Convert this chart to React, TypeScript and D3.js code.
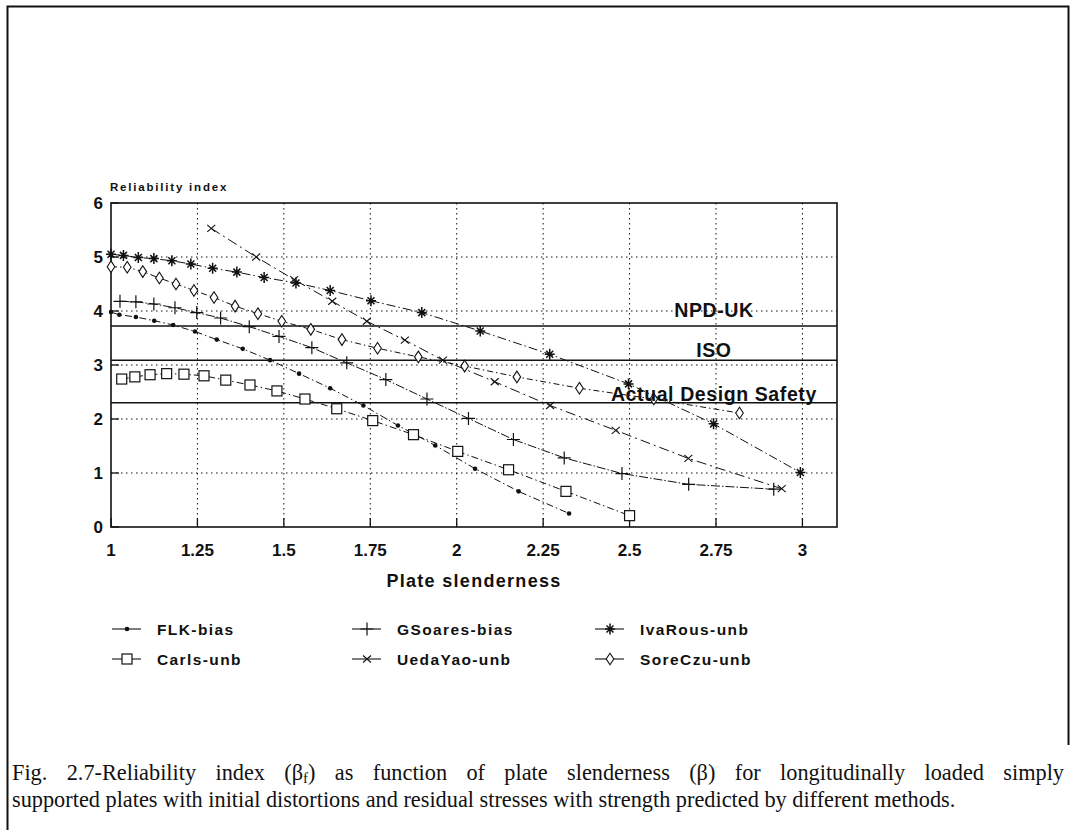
import React, {useLayoutEffect, useRef, useState} from 'react'
import * as d3 from 'd3'

// values
const xTicks = [1, 1.25, 1.5, 1.75, 2, 2.25, 2.5, 2.75, 3]
const xTickLabels = ['1', '1.25', '1.5', '1.75', '2', '2.25', '2.5', '2.75', '3']
const yTicks = [0, 1, 2, 3, 4, 5, 6]

const flkX = [1.0, 1.024, 1.072, 1.125, 1.18, 1.243, 1.306, 1.381, 1.46, 1.544, 1.634, 1.73, 1.83, 1.938, 2.053, 2.179, 2.325]
const flkY = [3.98, 3.93, 3.89, 3.82, 3.74, 3.62, 3.47, 3.30, 3.09, 2.84, 2.57, 2.25, 1.88, 1.51, 1.08, 0.66, 0.25]

const carlsX = [1.031, 1.069, 1.113, 1.161, 1.211, 1.269, 1.332, 1.402, 1.48, 1.561, 1.653, 1.757, 1.875, 2.003, 2.15, 2.316, 2.5]
const carlsY = [2.74, 2.78, 2.82, 2.84, 2.83, 2.80, 2.72, 2.63, 2.52, 2.37, 2.19, 1.97, 1.71, 1.40, 1.06, 0.66, 0.21]

const gsoaresX = [1.026, 1.072, 1.124, 1.185, 1.248, 1.317, 1.4, 1.486, 1.581, 1.682, 1.795, 1.914, 2.034, 2.164, 2.311, 2.478, 2.671, 2.917]
const gsoaresY = [4.18, 4.17, 4.13, 4.06, 3.97, 3.87, 3.71, 3.53, 3.32, 3.04, 2.73, 2.37, 2.01, 1.62, 1.28, 0.99, 0.79, 0.70]

const ivaX = [1.0, 1.036, 1.079, 1.124, 1.176, 1.231, 1.294, 1.364, 1.443, 1.535, 1.634, 1.752, 1.899, 2.068, 2.269, 2.497, 2.743, 2.994]
const ivaY = [5.05, 5.03, 4.99, 4.97, 4.93, 4.87, 4.79, 4.72, 4.62, 4.52, 4.38, 4.19, 3.97, 3.63, 3.20, 2.65, 1.91, 1.01]

const uedaX = [1.29, 1.42, 1.53, 1.64, 1.74, 1.85, 1.96, 2.11, 2.27, 2.46, 2.67, 2.94]
const uedaY = [5.53, 5.0, 4.58, 4.18, 3.81, 3.46, 3.09, 2.69, 2.25, 1.79, 1.27, 0.71]

const soreX = [1.0, 1.047, 1.092, 1.14, 1.188, 1.24, 1.298, 1.359, 1.425, 1.494, 1.578, 1.668, 1.771, 1.889, 2.023, 2.174, 2.355, 2.57, 2.818]
const soreY = [4.82, 4.81, 4.73, 4.61, 4.50, 4.38, 4.25, 4.09, 3.95, 3.81, 3.66, 3.47, 3.31, 3.15, 2.98, 2.78, 2.57, 2.37, 2.11]

const targetValues = [3.72, 3.09, 2.3]
const targetLabels = ['NPD-UK', 'ISO', 'Actual Design Safety']
const targetLabelX = 2.744

const series = [
  {name: 'FLK-bias', xs: flkX, ys: flkY, marker: 'dot', dash: '7 3 1.5 3'},
  {name: 'Carls-unb', xs: carlsX, ys: carlsY, marker: 'square', dash: '7 3 1.5 3'},
  {name: 'GSoares-bias', xs: gsoaresX, ys: gsoaresY, marker: 'plus', dash: '9 2 1.5 2'},
  {name: 'UedaYao-unb', xs: uedaX, ys: uedaY, marker: 'cross', dash: '10 4 2 4'},
  {name: 'IvaRous-unb', xs: ivaX, ys: ivaY, marker: 'star', dash: '9 3 1.5 3'},
  {name: 'SoreCzu-unb', xs: soreX, ys: soreY, marker: 'diamond', dash: '6 3 1.5 3'},
]

// legend order: 3 columns x 2 rows
const legendOrder = ['FLK-bias', 'GSoares-bias', 'IvaRous-unb', 'Carls-unb', 'UedaYao-unb', 'SoreCzu-unb']

const INK = '#111'
const sans = '"Liberation Sans", Arial, Helvetica, sans-serif'
const serif = '"Liberation Serif", "Times New Roman", serif'

const Marker = ({type, x, y}: {type: string, x: number, y: number}) => {
  const t = `translate(${x},${y})`
  if (type === 'dot') return <circle cx={x} cy={y} r={2.3} fill={INK} />
  if (type === 'square') return <rect x={x - 5} y={y - 5} width={10} height={10} fill="white" stroke={INK} strokeWidth={1.2} />
  if (type === 'plus') return <path transform={t} d="M-6.5,0H6.5M0,-6.5V6.5" stroke={INK} strokeWidth={1.2} />
  if (type === 'cross') return <path transform={t} d="M-4,-3.5L4,3.5M-4,3.5L4,-3.5" stroke={INK} strokeWidth={1.1} />
  if (type === 'star') return <path transform={t} d="M-5,0H5M0,-5.5V5.5M-3.5,-3.5L3.5,3.5M-3.5,3.5L3.5,-3.5" stroke={INK} strokeWidth={1.5} />
  return <path transform={t} d="M0,-5.8L3.8,0L0,5.8L-3.8,0Z" fill="white" stroke={INK} strokeWidth={1.1} />
}

export default function App() {
  const left = 111, right = 837, top = 203, bottom = 527

  const x = d3.scaleLinear().domain([1, 3.1]).range([left, right])
  const y = d3.scaleLinear().domain([0, 6]).range([bottom, top])

  const line = d3.line<[number, number]>()
    .x(d => x(d[0]))
    .y(d => y(d[1]))

  const legendCols = [112, 352, 595]
  const legendRows = [629, 659]

  // justify the first caption line by widening the word gaps
  const captionRef = useRef<SVGTextElement>(null)
  const [wordGap, setWordGap] = useState(0)
  useLayoutEffect(() => {
    if (!captionRef.current) return
    const len = captionRef.current.getComputedTextLength()
    setWordGap(Math.max(0, (1052 - len) / 13))
  }, [])

  return (
    <div style={{position: 'absolute', left: 0, top: 0}}>
      <svg width={1077} height={830} style={{display: 'block', background: 'white'}}>
        {/* outer scanned frame */}
        <path d="M7.5,830V6.5H1068.5V745" fill="none" stroke={INK} strokeWidth={2} />

        {/* grid */}
        <g stroke={INK} strokeWidth={1} strokeDasharray="1.5 3.5">
          {xTicks.slice(1).map(t => (
            <line key={'gx' + t} x1={x(t)} x2={x(t)} y1={top} y2={bottom} />
          ))}
          {yTicks.slice(1, -1).map(t => (
            <line key={'gy' + t} x1={left} x2={right} y1={y(t)} y2={y(t)} />
          ))}
        </g>

        {/* ticks */}
        <g stroke={INK} strokeWidth={1.3}>
          {xTicks.map(t => (
            <line key={'tx' + t} x1={x(t)} x2={x(t)} y1={bottom} y2={bottom - 9} />
          ))}
          {yTicks.map(t => (
            <line key={'ty' + t} x1={left} x2={left + 8} y1={y(t)} y2={y(t)} />
          ))}
        </g>

        {/* target reliability lines */}
        {targetValues.map((v, i) => (
          <line key={'target' + i} x1={left} x2={right} y1={y(v)} y2={y(v)} stroke={INK} strokeWidth={1.5} />
        ))}

        {/* plot frame */}
        <rect x={left} y={top} width={right - left} height={bottom - top} fill="none" stroke={INK} strokeWidth={1.6} />

        {/* series */}
        {series.map(s => {
          const pts = s.xs.map((v, i) => [v, s.ys[i]] as [number, number])
          return (
            <g key={s.name}>
              <path d={line(pts) || ''} fill="none" stroke={INK} strokeWidth={1} strokeDasharray={s.dash} />
              {pts.map((p, i) => (
                <Marker key={i} type={s.marker} x={x(p[0])} y={y(p[1])} />
              ))}
            </g>
          )
        })}

        {/* target labels */}
        {targetLabels.map((lab, i) => (
          <text key={lab} x={x(targetLabelX)} y={y(targetValues[i]) - [9, 3.5, 1.5][i]}
            textAnchor="middle" fontFamily={sans} fontWeight="bold" fontSize={19.5}
            letterSpacing={0.6} fill={INK}>{lab}</text>
        ))}

        {/* axis labels */}
        {xTicks.map((t, i) => (
          <text key={'xl' + t} x={x(t)} y={556} textAnchor="middle" fontFamily={sans}
            fontWeight="bold" fontSize={17} fill={INK}>{xTickLabels[i]}</text>
        ))}
        {yTicks.map(t => (
          <text key={'yl' + t} x={103} y={y(t) + 6} textAnchor="end" fontFamily={sans}
            fontWeight="bold" fontSize={17} fill={INK}>{t}</text>
        ))}
        <text x={110} y={191} fontFamily={sans} fontWeight="bold" fontSize={11.5}
          letterSpacing={1.8} fill={INK}>Reliability index</text>
        <text x={(left + right) / 2} y={587} textAnchor="middle" fontFamily={sans}
          fontWeight="bold" fontSize={18} letterSpacing={1.3} fill={INK}>Plate slenderness</text>

        {/* legend */}
        {legendOrder.map((name, i) => {
          const s = series.find(d => d.name === name)!
          const lx = legendCols[i % 3]
          const ly = legendRows[Math.floor(i / 3)]
          return (
            <g key={'lg' + name}>
              <line x1={lx} x2={lx + 29} y1={ly} y2={ly} stroke={INK} strokeWidth={1.1} />
              <Marker type={s.marker} x={lx + 15} y={ly} />
              <text x={lx + 45} y={ly + 5.5} fontFamily={sans} fontWeight="bold" fontSize={15.5}
                letterSpacing={1.4} fill={INK}>{name}</text>
            </g>
          )
        })}

        {/* caption */}
        <text ref={captionRef} x={12} y={780} fontFamily={serif} fontSize={22.3} fill={INK}
          style={{wordSpacing: wordGap + 'px'}}>
          Fig. 2.7-Reliability index (β<tspan fontSize={15} dy={3}>f</tspan><tspan dy={-3}>) as function of plate slenderness (β) for longitudinally loaded simply</tspan>
        </text>
        <text x={12} y={807} fontFamily={serif} fontSize={22.3} fill={INK}>
          supported plates with initial distortions and residual stresses with strength predicted by different methods.
        </text>
      </svg>
    </div>
  )
}
